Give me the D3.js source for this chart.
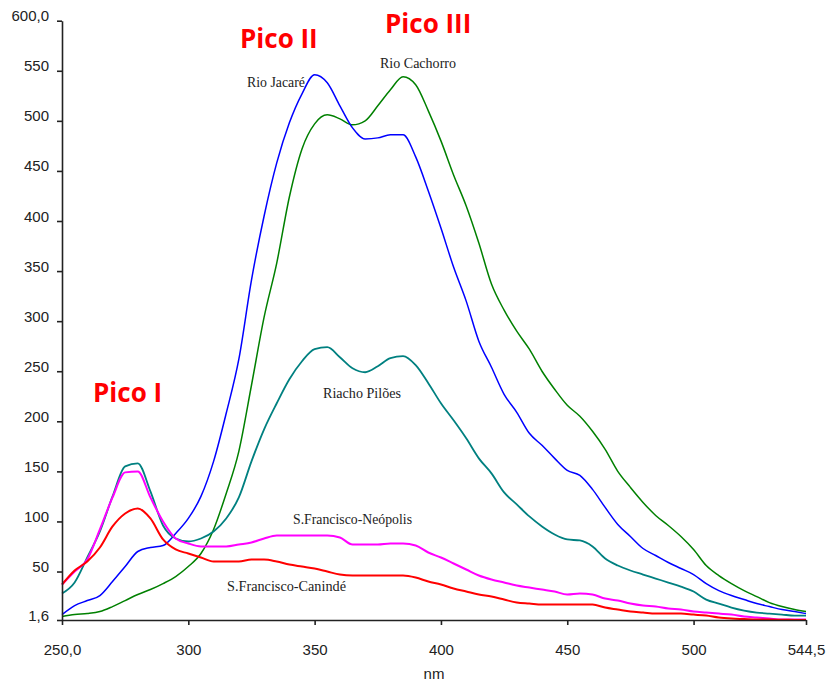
<!DOCTYPE html>
<html>
<head>
<meta charset="utf-8">
<script src="https://cdn.jsdelivr.net/npm/d3@7"></script>
<style>
  body { margin: 0; background: #fff; }
  .tick text { font-family: "Liberation Sans", Arial, sans-serif; font-size: 15px; fill: #222; }
</style>
</head>
<body>
<div id="chart"></div>
<script>
// wavelength (nm)
var nm = [250, 255, 260, 265, 270, 275, 280, 285, 290, 295,
          300, 305, 310, 315, 320, 325, 330, 335, 340, 345,
          350, 355, 360, 365, 370, 375, 380, 385, 390, 395,
          400, 405, 410, 415, 420, 425, 430, 435, 440, 445,
          450, 455, 460, 465, 470, 475, 480, 485, 490, 495,
          500, 505, 510, 515, 520, 525, 530, 535, 540, 544.5];

var rioJacare = [7, 16, 21, 26, 40, 55, 70, 74, 76, 88,
                 103, 125, 160, 208, 262, 341, 405, 458, 498, 527,
                 546, 538, 515, 493, 482, 483, 486, 486, 464, 430,
                 393, 354, 320, 280, 254, 227, 209, 188, 176, 163,
                 151, 146, 132, 114, 97, 85, 73, 66, 59, 53,
                 47, 38, 31, 26, 22, 18, 15, 12, 10, 8];

var rioCachorro = [5, 7, 8, 10, 15, 21, 27, 32, 38, 45,
                   55, 68, 92, 128, 170, 236, 304, 358, 424, 472,
                   497, 506, 502, 496, 500, 515, 531, 544, 536, 510,
                   480, 446, 415, 378, 337, 311, 290, 272, 250, 232,
                   216, 205, 190, 172, 150, 134, 119, 106, 96, 85,
                   72, 56, 46, 38, 31, 25, 19, 15, 12, 10];

var riachoPiloes = [28, 39, 64, 90, 125, 155, 158, 130, 96, 83,
                    80, 83, 90, 103, 124, 160, 192, 218, 242, 260,
                    272, 274, 264, 253, 249, 255, 263, 265, 256, 238,
                    218, 201, 183, 163, 148, 129, 117, 105, 95, 87,
                    82, 81, 75, 63, 56, 51, 47, 43, 39, 35,
                    30, 22, 18, 14, 11, 9, 8, 7, 6, 6];

var sfNeopolis = [37, 50, 62, 92, 124, 149, 150, 124, 100, 83,
                  78, 75, 75, 75, 77, 79, 83, 86, 86, 86,
                  86, 86, 84, 77, 77, 77, 78, 78, 76, 69,
                  64, 58, 52, 46, 42, 39, 36, 34, 32, 30,
                  27, 28, 27, 23, 21, 18, 16, 15, 13, 12,
                  10, 9, 8, 7, 5, 4, 3, 2, 2, 2];

var sfCaninde = [37, 51, 60, 74, 95, 108, 113, 103, 82, 72,
                 68, 64, 60, 60, 60, 62, 62, 60, 57, 55,
                 53, 50, 47, 46, 46, 46, 46, 46, 44, 40,
                 37, 33, 30, 27, 25, 22, 19, 18, 17, 17,
                 17, 17, 17, 14, 12, 10, 9, 8, 8, 8,
                 7, 6, 4, 3, 2.5, 2, 2, 1.8, 1.7, 1.6];

var xTicks = [250, 300, 350, 400, 450, 500, 544.5];
var xTickLabels = ["250,0", "300", "350", "400", "450", "500", "544,5"];
var yTicks = [1.6, 50, 100, 150, 200, 250, 300, 350, 400, 450, 500, 550, 600];
var yTickLabels = ["1,6", "50", "100", "150", "200", "250", "300", "350", "400", "450", "500", "550", "600,0"];

var series = [
  { name: "Rio Cachorro", values: rioCachorro, color: "#008000", width: 1.5 },
  { name: "Rio Jacaré", values: rioJacare, color: "#0000ff", width: 1.5 },
  { name: "Riacho Pilões", values: riachoPiloes, color: "#008080", width: 1.8 },
  { name: "S.Francisco-Neópolis", values: sfNeopolis, color: "#ff00ff", width: 2 },
  { name: "S.Francisco-Canindé", values: sfCaninde, color: "#ff0000", width: 2 }
];

var W = 827, H = 685;
var plotLeft = 62, plotRight = 806, plotTop = 20.7, plotBottom = 620;

var svg = d3.select("#chart").append("svg")
  .attr("width", W)
  .attr("height", H);

var xScale = d3.scaleLinear().domain([250, 544.5]).range([plotLeft, plotRight]);
var yScale = d3.scaleLinear().domain([1.6, 600]).range([plotBottom, plotTop]);

var xAxis = d3.axisBottom(xScale)
  .tickValues(xTicks)
  .tickSize(5)
  .tickSizeOuter(0)
  .tickFormat(function(d, i) { return xTickLabels[i]; });
var yAxis = d3.axisLeft(yScale)
  .tickValues(yTicks)
  .tickSize(5)
  .tickSizeOuter(0)
  .tickFormat(function(d, i) { return yTickLabels[i]; });

var line = d3.line()
  .x(function(d, i) { return xScale(nm[i]); })
  .y(function(d) { return yScale(d); })
  .curve(d3.curveMonotoneX);

svg.selectAll(".series")
  .data(series)
  .enter()
  .append("path")
  .attr("class", "series")
  .attr("fill", "none")
  .attr("stroke", function(d) { return d.color; })
  .attr("stroke-width", function(d) { return d.width; })
  .attr("stroke-linejoin", "round")
  .attr("d", function(d) { return line(d.values); });

var gx = svg.append("g")
  .attr("transform", "translate(0," + plotBottom + ")")
  .call(xAxis);
gx.select(".domain").attr("stroke", "#222").attr("stroke-width", 1.6);
gx.selectAll(".tick line").attr("stroke", "#222").attr("stroke-width", 1.6);
gx.selectAll(".tick text").attr("y", 35).attr("dy", 0);

var gy = svg.append("g")
  .attr("transform", "translate(" + plotLeft + ",0)")
  .call(yAxis);
gy.select(".domain").attr("stroke", "#222").attr("stroke-width", 1.6);
gy.selectAll(".tick line").attr("stroke", "#222").attr("stroke-width", 1.6);
gy.selectAll(".tick text").attr("x", -13).attr("dy", 0);

svg.append("text")
  .attr("x", (plotLeft + plotRight) / 2)
  .attr("y", 679)
  .attr("text-anchor", "middle")
  .style("font-family", "Liberation Sans, Arial, sans-serif")
  .style("font-size", "15px")
  .style("fill", "#222")
  .text("nm");

// peak labels
var peaks = [
  { text: "Pico I", x: 93, y: 402 },
  { text: "Pico II", x: 240, y: 48 },
  { text: "Pico III", x: 385, y: 33 }
];
svg.selectAll(".peak")
  .data(peaks)
  .enter()
  .append("text")
  .attr("class", "peak")
  .attr("x", function(d) { return d.x; })
  .attr("y", function(d) { return d.y; })
  .style("font-family", "Open Sans, sans-serif")
  .style("font-weight", "bold")
  .style("font-size", "26px")
  .style("fill", "#ff0000")
  .text(function(d) { return d.text; });

// series labels
var labels = [
  { text: "Rio Jacaré", x: 247, y: 87, w: 58 },
  { text: "Rio Cachorro", x: 380, y: 68, w: 76 },
  { text: "Riacho Pilões", x: 323, y: 398, w: 78 },
  { text: "S.Francisco-Neópolis", x: 293, y: 524, w: 119 },
  { text: "S.Francisco-Canindé", x: 227, y: 591, w: 119 }
];
svg.selectAll(".lbl")
  .data(labels)
  .enter()
  .append("text")
  .attr("class", "lbl")
  .attr("x", function(d) { return d.x; })
  .attr("y", function(d) { return d.y; })
  .attr("textLength", function(d) { return d.w; })
  .attr("lengthAdjust", "spacingAndGlyphs")
  .style("font-family", "Liberation Serif, Times New Roman, serif")
  .style("font-size", "15px")
  .style("fill", "#222")
  .text(function(d) { return d.text; });
</script>
</body>
</html>
